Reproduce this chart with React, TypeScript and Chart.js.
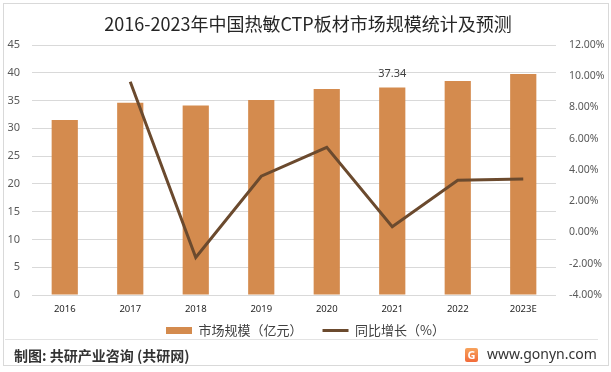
import React, { useEffect, useRef } from "react";
import { Chart, registerables } from "chart.js";

Chart.register(...registerables);

const categories = ["2016", "2017", "2018", "2019", "2020", "2021", "2022", "2023E"];
const marketSize = [31.5, 34.6, 34.1, 35.1, 37.1, 37.34, 38.5, 39.8];
const yoyGrowth = [null, 9.65, -1.6, 3.6, 5.45, 0.37, 3.35, 3.42];
const leftTicks = [0, 45, 5];
const rightTicks = [-4, 12, 2];
const labeledCategory = "2021";

const BAR = "#D48B4E";
const LINE = "#6B4A2E";
const FONT = "'Noto Sans', 'Noto Sans CJK SC', sans-serif";
const CJK = "'Noto Sans CJK SC', sans-serif";

const labelPlugin = {
  id: "valueLabel",
  afterDatasetsDraw(chart: any) {
    const idx = categories.indexOf(labeledCategory);
    const el = chart.getDatasetMeta(0).data[idx];
    if (!el) return;
    const ctx = chart.ctx;
    ctx.save();
    ctx.font = `11px ${FONT}`;
    ctx.fillStyle = "#404040";
    ctx.textAlign = "center";
    ctx.textBaseline = "middle";
    ctx.fillText(marketSize[idx].toFixed(2), el.x, el.y - 14);
    ctx.restore();
  },
};

const legendShift = {
  id: "legendShift",
  afterLayout(chart: any) {
    const lg = chart.legend;
    if (!lg) return;
    lg.top -= 9;
    lg.bottom = chart.height;
  },
};

export default function App() {
  const ref = useRef<HTMLCanvasElement>(null);
  useEffect(() => {
    document.body.style.margin = "0";
    const chart = new Chart(ref.current as HTMLCanvasElement, {
      data: {
        labels: categories,
        datasets: [
          {
            type: "bar",
            label: "市场规模（亿元）",
            data: marketSize,
            backgroundColor: BAR,
            yAxisID: "y",
            barPercentage: 0.4,
            categoryPercentage: 1,
            order: 2,
          },
          {
            type: "line",
            label: "同比增长（%）",
            data: yoyGrowth as any,
            borderColor: LINE,
            backgroundColor: LINE,
            borderWidth: 3,
            pointRadius: 0,
            tension: 0,
            yAxisID: "y1",
            order: 1,
          },
        ],
      } as any,
      options: {
        responsive: false,
        animation: false,
        layout: { padding: { left: 0, right: 0, top: 45, bottom: 0 } },
        plugins: {
          title: { display: false },
          tooltip: { enabled: false },
          legend: {
            position: "bottom",
            maxHeight: 25,
            labels: {
              usePointStyle: true,
              pointStyleWidth: 26,
              boxWidth: 26,
              boxHeight: 7,
              padding: 20,
              color: "#404040",
              font: { size: 13, family: CJK },
              generateLabels: (c: any) =>
                c.data.datasets.map((ds: any, i: number) => ({
                  text: ds.label,
                  fillStyle: i === 0 ? BAR : LINE,
                  strokeStyle: i === 0 ? BAR : LINE,
                  lineWidth: i === 0 ? 0 : 3,
                  pointStyle: i === 0 ? "rect" : "line",
                  fontColor: "#404040",
                  hidden: false,
                  datasetIndex: i,
                })),
            },
          },
        },
        scales: {
          x: {
            grid: { display: false, drawTicks: false },
            border: { display: false },
            ticks: { color: "#262626", font: { size: 9.5, family: FONT }, padding: 9, maxRotation: 0 },
            afterFit: (s: any) => {
              s.height = 18;
            },
          },
          y: {
            position: "left",
            min: leftTicks[0],
            max: leftTicks[1],
            ticks: { stepSize: leftTicks[2], color: "#595959", font: { size: 11, family: FONT }, padding: 12 },
            grid: { color: "#D9D9D9", drawTicks: false },
            border: { display: false },
            afterFit: (s: any) => {
              s.width = 32;
            },
          },
          y1: {
            position: "right",
            min: rightTicks[0],
            max: rightTicks[1],
            ticks: {
              stepSize: rightTicks[2],
              color: "#595959",
              font: { size: 10.5, family: FONT },
              padding: 13,
              callback: (v: any) => Number(v).toFixed(2) + "%",
            },
            grid: { display: false, drawTicks: false },
            border: { display: false },
            afterFit: (s: any) => {
              s.width = 55;
            },
          },
        },
      } as any,
      plugins: [labelPlugin, legendShift],
    });
    return () => chart.destroy();
  }, []);

  return (
    <div
      style={{
        position: "fixed",
        left: 0,
        top: 0,
        width: 611,
        height: 372,
        background: "#fff",
        overflow: "hidden",
      }}
    >
      <canvas ref={ref} width={611} height={338} style={{ position: "absolute", left: 0, top: 0 }} />
      <div
        style={{
          position: "absolute",
          left: 3,
          top: 3,
          width: 606,
          height: 363,
          border: "1px solid #D9D9D9",
          boxSizing: "border-box",
          pointerEvents: "none",
        }}
      />
      <div
        style={{
          position: "absolute",
          left: 0,
          width: 616,
          top: 10,
          textAlign: "center",
          fontFamily: CJK,
          fontSize: 18,
          color: "#262626",
          lineHeight: "26px",
          whiteSpace: "nowrap",
        }}
      >
        2016-2023年中国热敏CTP板材市场规模统计及预测
      </div>
      <div style={{ position: "absolute", left: 5, top: 339, width: 593, height: 1, background: "#E3E3E3" }} />
      <div
        style={{
          position: "absolute",
          left: 14,
          top: 345,
          fontFamily: CJK,
          fontSize: 14,
          fontWeight: 700,
          color: "#333",
          lineHeight: "20px",
          whiteSpace: "nowrap",
        }}
      >
        制图: 共研产业咨询 (共研网)
      </div>
      <div
        style={{
          position: "absolute",
          left: 465,
          top: 348,
          width: 13,
          height: 14,
          borderRadius: 2,
          background: "linear-gradient(180deg, #F7A35C, #F26B3A)",
          color: "#fff",
          fontFamily: FONT,
          fontWeight: 700,
          fontSize: 11,
          lineHeight: "14px",
          textAlign: "center",
        }}
      >
        G
      </div>
      <div
        style={{
          position: "absolute",
          left: 487,
          top: 344,
          fontFamily: FONT,
          fontSize: 14,
          color: "#333",
          lineHeight: "20px",
          whiteSpace: "nowrap",
        }}
      >
        www.gonyn.com
      </div>
    </div>
  );
}
